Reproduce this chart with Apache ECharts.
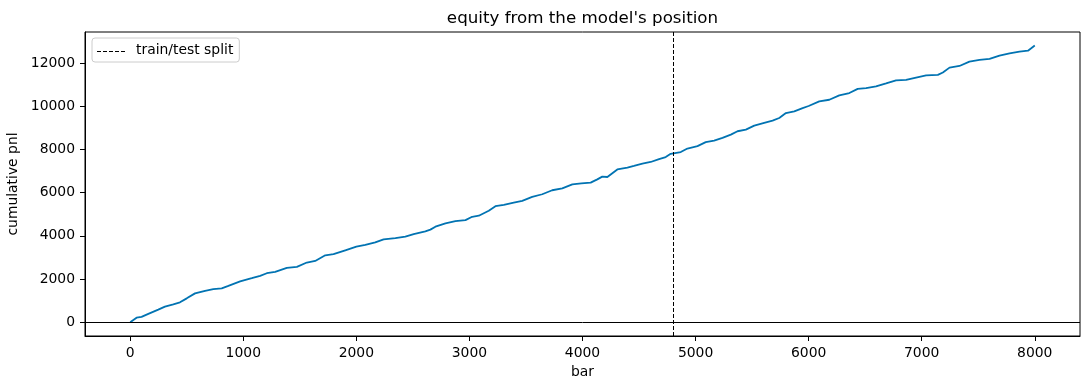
<!DOCTYPE html>
<html>
<head>
<meta charset="utf-8">
<script src="https://cdn.jsdelivr.net/npm/echarts@6/dist/echarts.min.js"></script>
<style>
  html, body { margin: 0; padding: 0; background: #fff; }
  #chart { width: 1090px; height: 390px; }
</style>
</head>
<body>
<div id="chart"></div>
<script>
// bar index and cumulative pnl
const bars = [0, 56, 100, 160, 248, 307, 381, 440, 500, 573, 662, 735, 809, 868, 972,
  1075, 1149, 1208, 1282, 1385, 1474, 1562, 1636, 1725, 1798, 1902, 2000, 2079, 2167,
  2241, 2345, 2433, 2507, 2610, 2655, 2699, 2788, 2876, 2965, 3024, 3083, 3171, 3230,
  3304, 3392, 3467, 3555, 3644, 3732, 3821, 3910, 3990, 4072, 4131, 4175, 4220, 4308,
  4397, 4455, 4530, 4603, 4677, 4736, 4780, 4869, 4928, 5017, 5090, 5164, 5238, 5312,
  5371, 5445, 5519, 5607, 5681, 5740, 5799, 5873, 5947, 6000, 6094, 6183, 6271, 6360,
  6434, 6508, 6596, 6685, 6773, 6862, 6950, 7039, 7143, 7187, 7246, 7334, 7422, 7511,
  7600, 7688, 7777, 7865, 7940, 8000];
const pnl = [0, 210, 245, 385, 580, 720, 830, 920, 1105, 1335, 1455, 1535, 1570, 1685, 1890,
  2040, 2150, 2270, 2335, 2515, 2565, 2765, 2840, 3100, 3150, 3330, 3500, 3580, 3700,
  3840, 3900, 3965, 4085, 4210, 4290, 4425, 4580, 4685, 4730, 4885, 4935, 5165, 5375,
  5440, 5545, 5625, 5810, 5930, 6115, 6205, 6390, 6430, 6470, 6620, 6745, 6730, 7080,
  7160, 7240, 7345, 7425, 7560, 7655, 7805, 7885, 8050, 8160, 8345, 8420, 8545, 8695,
  8850, 8925, 9110, 9235, 9340, 9465, 9695, 9775, 9925, 10020, 10235, 10310, 10510, 10620,
  10815, 10850, 10925, 11065, 11205, 11230, 11340, 11435, 11460, 11570, 11800, 11875, 12080, 12155,
  12200, 12355, 12460, 12540, 12585, 12820];
const xTicks = [0, 1000, 2000, 3000, 4000, 5000, 6000, 7000, 8000];
const yTicks = [0, 2000, 4000, 6000, 8000, 10000, 12000];
const splitBar = 4800;

const font = "DejaVu Sans";
const chart = echarts.init(document.getElementById("chart"), null, { renderer: "canvas" });

const option = {
  animation: false,
  backgroundColor: "#fff",
  textStyle: { fontFamily: font, color: "#000" },
  title: {
    text: "equity from the model's position",
    left: 582.5,
    textAlign: "center",
    top: 10,
    padding: 0,
    textStyle: { fontFamily: font, fontSize: 16.7, fontWeight: "normal", color: "#000" }
  },
  legend: {
    data: [{ name: "train/test split", icon: "none" }],
    left: 92,
    top: 38,
    orient: "vertical",
    padding: [5, 6, 5, 5],
    itemWidth: 28,
    itemHeight: 14,
    borderColor: "#cccccc",
    borderWidth: 1,
    borderRadius: 3,
    textStyle: { fontFamily: font, fontSize: 13.9, color: "#000", padding: [0, 0, 0, 6] }
  },
  // dashed sample inside the legend box
  graphic: [{
    type: "line",
    shape: { x1: 97, y1: 51.5, x2: 125, y2: 51.5 },
    style: { stroke: "#000", lineWidth: 1, lineDash: [4, 2] },
    z: 100
  }],
  grid: {
    left: 85,
    right: 10,
    top: 32,
    bottom: 54,
    show: true,
    borderColor: "#000",
    borderWidth: 1,
    containLabel: false,
    outerBoundsMode: "none"
  },
  xAxis: {
    type: "value",
    min: -400,
    max: 8400,
    name: "bar",
    nameLocation: "middle",
    nameGap: 28,
    nameTextStyle: { fontFamily: font, fontSize: 13.9, color: "#000" },
    axisLine: { show: true, onZero: false, lineStyle: { color: "#000", width: 1 } },
    axisTick: { show: true, length: 5, customValues: xTicks, lineStyle: { color: "#000", width: 1 } },
    axisLabel: { customValues: xTicks, margin: 10, fontFamily: font, fontSize: 13.9, color: "#000",
      formatter: v => String(v) },
    splitLine: { show: false }
  },
  yAxis: {
    type: "value",
    min: -640,
    max: 13450,
    name: "cumulative pnl",
    nameLocation: "middle",
    nameRotate: 90,
    nameGap: 45,
    nameTextStyle: { fontFamily: font, fontSize: 13.9, color: "#000" },
    axisLine: { show: true, onZero: false, lineStyle: { color: "#000", width: 1 } },
    axisTick: { show: true, length: 5, customValues: yTicks, lineStyle: { color: "#000", width: 1 } },
    axisLabel: { customValues: yTicks, margin: 10, fontFamily: font, fontSize: 13.9, color: "#000",
      formatter: v => String(v) },
    splitLine: { show: false }
  },
  series: [
    {
      name: "equity",
      type: "line",
      data: bars.map((b, i) => [b, pnl[i]]),
      showSymbol: false,
      symbol: "none",
      lineStyle: { color: "#0173b2", width: 1.8 },
      itemStyle: { color: "#0173b2" },
      z: 3,
      markLine: {
        silent: true,
        symbol: ["none", "none"],
        label: { show: false },
        lineStyle: { color: "#000", width: 1, type: "solid" },
        data: [{ yAxis: 0 }]
      }
    },
    {
      name: "train/test split",
      type: "line",
      data: [],
      symbol: "none",
      lineStyle: { color: "#000", width: 1, type: [4, 2] },
      itemStyle: { color: "#000" },
      markLine: {
        silent: true,
        symbol: ["none", "none"],
        label: { show: false },
        lineStyle: { color: "#000", width: 1, type: [4, 2] },
        data: [{ xAxis: splitBar }]
      }
    }
  ]
};

chart.setOption(option);
window.addEventListener("resize", chart.resize);
</script>
</body>
</html>
